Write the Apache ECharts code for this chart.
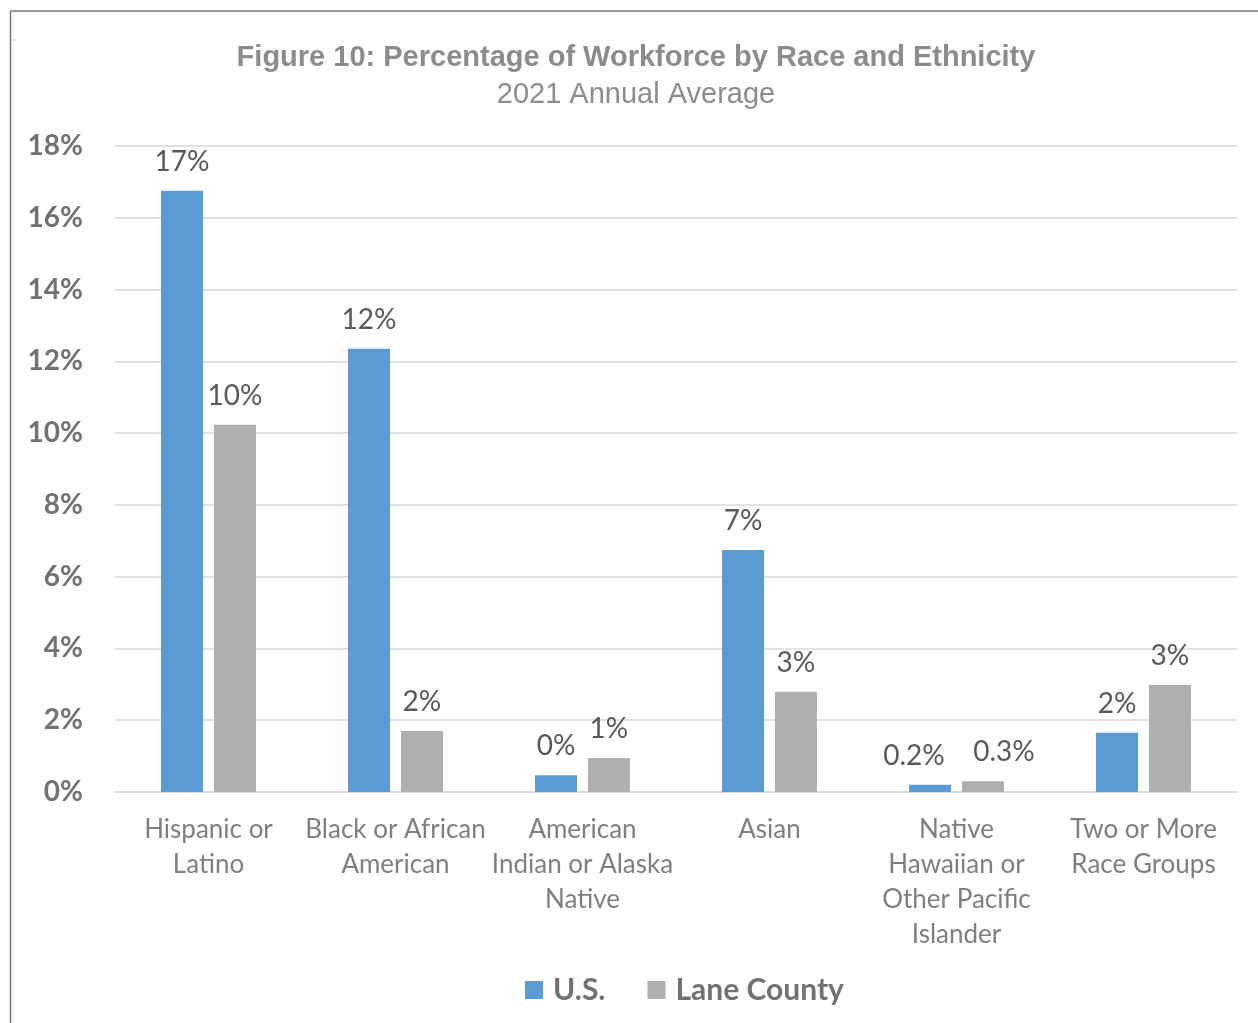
<!DOCTYPE html>
<html>
<head>
<meta charset="utf-8">
<script src="https://cdn.jsdelivr.net/npm/echarts@6/dist/echarts.min.js"></script>
<style>
html,body{margin:0;padding:0;background:#fff;}
#chart{width:1258px;height:1023px;}
</style>
</head>
<body>
<div id="chart"></div>
<script>
const categories = [
  "Hispanic or\nLatino",
  "Black or African\nAmerican",
  "American\nIndian or Alaska\nNative",
  "Asian",
  "Native\nHawaiian or\nOther Pacific\nIslander",
  "Two or More\nRace Groups"
];
const usValues = [16.75, 12.35, 0.47, 6.74, 0.2, 1.65];
const laneValues = [10.23, 1.70, 0.95, 2.79, 0.3, 2.98];
const usLabels = ["17%", "12%", "0%", "7%", "0.2%", "2%"];
const laneLabels = ["10%", "2%", "1%", "3%", "0.3%", "3%"];
const seriesNames = ["U.S.", "Lane County"];
const yTicks = [0, 2, 4, 6, 8, 10, 12, 14, 16, 18];

const FONT = "Lato, 'Noto Sans', sans-serif";
const chart = echarts.init(document.getElementById('chart'), null, {renderer: 'canvas'});

function buildData(values, labels, shiftIdx, shift) {
  return values.map((v, i) => {
    const item = {value: v, label: {formatter: labels[i]}};
    if (i === shiftIdx) item.label.offset = [shift, 0];
    return item;
  });
}

const labelStyle = {
  show: true,
  position: 'top',
  distance: 15,
  fontFamily: FONT,
  fontSize: 28,
  color: '#595959'
};

chart.setOption({
  backgroundColor: '#ffffff',
  animation: false,
  title: [
    {
      text: 'Figure 10: Percentage of Workforce by Race and Ethnicity',
      left: 631, top: 38, textAlign: 'center',
      textStyle: {fontFamily: "'Liberation Sans', Arial, sans-serif", fontWeight: 'bold', fontSize: 29, color: '#8c8c8f'}
    },
    {
      text: '2021 Annual Average',
      left: 631, top: 75, textAlign: 'center',
      textStyle: {fontFamily: "'Liberation Sans', Arial, sans-serif", fontWeight: 'normal', fontSize: 29, color: '#8c8c8f'}
    }
  ],
  legend: {
    data: seriesNames,
    left: 520, top: 970,
    itemWidth: 18, itemHeight: 18, itemGap: 42,
    icon: 'rect',
    textStyle: {fontFamily: FONT, fontWeight: 'bold', fontSize: 30, color: '#767171', padding: [0, 0, 0, 5]}
  },
  grid: {left: 115, right: 21, top: 146, bottom: 231, containLabel: false},
  xAxis: {
    type: 'category',
    data: categories,
    axisLine: {show: true, lineStyle: {color: '#d9d9d9', width: 1.5}},
    axisTick: {show: false},
    axisLabel: {
      interval: 0,
      margin: 20,
      fontFamily: FONT, fontSize: 26, color: '#7f7f7f', lineHeight: 35, align: 'center'
    }
  },
  yAxis: {
    type: 'value',
    min: yTicks[0], max: yTicks[yTicks.length - 1], interval: 2,
    axisLine: {show: false},
    axisTick: {show: false},
    splitLine: {lineStyle: {color: '#d9d9d9', width: 1.5}},
    axisLabel: {
      margin: 32,
      formatter: '{value}%',
      fontFamily: FONT, fontWeight: 'bold', fontSize: 28, color: '#767171'
    }
  },
  series: [
    {
      name: seriesNames[0], type: 'bar',
      data: buildData(usValues, usLabels, 4, -16),
      barWidth: 42, barGap: '26%',
      itemStyle: {color: '#5b9bd5'},
      label: labelStyle
    },
    {
      name: seriesNames[1], type: 'bar',
      data: buildData(laneValues, laneLabels, 4, 21),
      barWidth: 42,
      itemStyle: {color: '#afafb0'},
      label: labelStyle
    }
  ],
  graphic: [
    {type: 'line', shape: {x1: 10.5, y1: 11, x2: 1258, y2: 11}, style: {stroke: '#7d746c', lineWidth: 1.5}},
    {type: 'line', shape: {x1: 10.5, y1: 11, x2: 10.5, y2: 1023}, style: {stroke: '#7d746c', lineWidth: 1.5}},
    {type: 'line', shape: {x1: 11, y1: 40, x2: 17, y2: 40}, style: {stroke: '#d0d0d0', lineWidth: 1}}
  ]
});
</script>
</body>
</html>
